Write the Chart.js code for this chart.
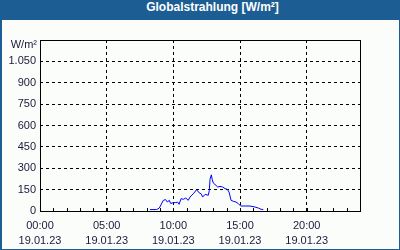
<!DOCTYPE html>
<html>
<head>
<meta charset="utf-8">
<script src="https://cdn.jsdelivr.net/npm/chart.js@4/dist/chart.umd.min.js"></script>
<style>
  html, body { margin: 0; padding: 0; background: #ffffff; }
  #frame { position: absolute; left: 0; top: 0; width: 400px; height: 250px; background: #1c5e94; overflow: hidden; }
  #title { position: absolute; left: 0; top: 0; width: 400px; height: 20px; line-height: 20px; text-align: center; color: #ffffff;
           font: bold 12px "Liberation Sans", Arial, sans-serif; padding-left: 25px; box-sizing: border-box; }
  #inner { position: absolute; left: 2px; top: 20px; width: 397px; height: 229px; background: #fbfdfb; }
  #unit { position: absolute; right: 363px; top: 38px; color: #1a1a3a; font: 11px "Liberation Sans", Arial, sans-serif; white-space: nowrap; }
  canvas { position: absolute; left: 0; top: 0; }
</style>
</head>
<body>
<div id="frame">
  <div id="title">Globalstrahlung [W/m²]</div>
  <div id="inner"><canvas id="c" width="397" height="229"></canvas></div>
  <div id="unit">W/m²</div>
</div>
<script>
// ---- data (hours of day 19.01.23, global radiation W/m²) ----
const hours = [8.25, 8.75, 8.95, 9.25, 9.43, 9.55, 9.7, 9.8, 10.0, 10.18, 10.33, 10.43, 10.58, 10.75, 10.93, 11.12, 11.25, 11.5, 11.75, 11.93, 12.08, 12.2, 12.38, 12.62, 12.7, 12.75, 12.85, 12.92, 13.0, 13.2, 13.33, 13.5, 13.7, 13.88, 14.05, 14.18, 14.33, 14.5, 14.7, 14.87, 15.05, 15.37, 15.75, 16.12, 16.37, 16.58, 16.75];
const radiation = [10, 10, 21, 75, 80, 63, 75, 52, 59, 59, 62, 47, 87, 82, 91, 75, 98, 121, 150, 128, 121, 98, 117, 110, 145, 222, 254, 220, 196, 180, 168, 173, 168, 157, 152, 133, 75, 68, 63, 52, 35, 35, 35, 28, 21, 12, 10];
const xTickHours = [0, 5, 10, 15, 20];
const xTickTimes = ['00:00', '05:00', '10:00', '15:00', '20:00'];
const dateLabel = '19.01.23';
const yMax = 1200;
const yStep = 150;

const tickFont = { family: '"Liberation Sans", Arial, sans-serif', size: 11 };
const xTickFont = { family: '"Liberation Sans", Arial, sans-serif', size: 11, lineHeight: 1.35 };
const tickColor = '#1a1a3a';

const frameAndTicks = {
  id: 'frameAndTicks',
  afterDraw(chart) {
    const ctx = chart.ctx, a = chart.chartArea, xs = chart.scales.x;
    ctx.save();
    ctx.strokeStyle = '#000000';
    ctx.lineWidth = 1;
    ctx.setLineDash([]);
    ctx.strokeRect(Math.round(a.left) + 0.5, Math.round(a.top) + 0.5, Math.round(a.right - a.left), Math.round(a.bottom - a.top));
    ctx.beginPath();
    for (let h = 1; h < 24; h++) {
      const x = Math.round(xs.getPixelForValue(h)) + 0.5;
      ctx.moveTo(x, Math.round(a.bottom));
      ctx.lineTo(x, Math.round(a.bottom) - 3);
    }
    ctx.stroke();
    ctx.restore();
  }
};

new Chart(document.getElementById('c'), {
  type: 'line',
  data: {
    datasets: [{
      data: hours.map((h, i) => ({ x: h, y: radiation[i] })),
      borderColor: '#0000ff',
      borderWidth: 1,
      pointRadius: 0,
      tension: 0,
      fill: false
    }]
  },
  options: {
    responsive: false,
    animation: false,
    layout: { padding: { top: 20, right: 39, left: 0, bottom: 0 } },
    plugins: { legend: { display: false }, tooltip: { enabled: false }, title: { display: false } },
    scales: {
      x: {
        type: 'linear',
        min: 0, max: 24,
        afterBuildTicks(scale) { scale.ticks = xTickHours.map(v => ({ value: v })); },
        afterFit(scale) { scale.height = 38; },
        ticks: {
          font: xTickFont, color: tickColor, padding: 8, maxRotation: 0,
          callback(v) { const i = xTickHours.indexOf(v); return i >= 0 ? [xTickTimes[i], dateLabel] : ''; }
        },
        grid: { color: '#000000', lineWidth: 1, drawTicks: false },
        border: { display: false, dash: [3, 3] }
      },
      y: {
        min: 0, max: yMax,
        afterFit(scale) { scale.width = 38; },
        ticks: {
          stepSize: yStep, font: tickFont, color: tickColor, padding: 4,
          callback(v) { return v >= yMax ? '' : v.toLocaleString('de-DE'); }
        },
        grid: {
          drawTicks: false, lineWidth: 1,
          color: (c) => (c.tick && (c.tick.value === 0 || c.tick.value === yMax)) ? 'rgba(0,0,0,0)' : '#000000'
        },
        border: { display: false, dash: [3, 3] }
      }
    }
  },
  plugins: [frameAndTicks]
});
</script>
</body>
</html>
